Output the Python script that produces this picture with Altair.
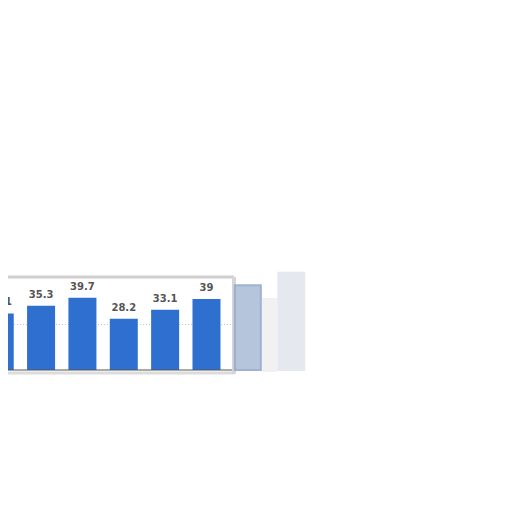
import altair as alt
import pandas as pd

idx = [0, 1, 2, 3, 4, 5]
values = [31.1, 35.3, 39.7, 28.2, 33.1, 39.0]
labels = ["31.1", "35.3", "39.7", "28.2", "33.1", "39"]
ghost_idx = [6, 7.05]
ghost_vals = [46.5, 53.5]
ghost_fill = ["#adbfd9", "#e3e7ee"]
ghost_stroke = ["#94aacd", "#e3e7ee"]
grid_vals = [25]
base_vals = [0]

df = pd.DataFrame({"i": idx, "v": values, "t": labels})
gdf = pd.DataFrame({"i": ghost_idx, "v": ghost_vals, "f": ghost_fill, "s": ghost_stroke})
griddf = pd.DataFrame({"g": grid_vals})
basedf = pd.DataFrame({"g": base_vals})
one = pd.DataFrame({"a": [0]})

xs = alt.Scale(domain=[0.2, 7.6], nice=False, zero=False, padding=0)
ys = alt.Scale(domain=[0, 50], nice=False)

box = alt.Chart(one).mark_rect(fill="white").encode(
    x=alt.value(-20), x2=alt.value(226), y=alt.value(-2), y2=alt.value(93)
)
top_edge = alt.Chart(one).mark_rule(color="#cfcfcf", strokeWidth=3).encode(
    x=alt.value(-20), x2=alt.value(226), y=alt.value(-2)
)
bottom_edge = alt.Chart(one).mark_rule(color="#dcdcdc", strokeWidth=3).encode(
    x=alt.value(-20), x2=alt.value(226), y=alt.value(94)
)
right_edge = alt.Chart(one).mark_rule(color="#d6d6d6", strokeWidth=4).encode(
    x=alt.value(226), y=alt.value(-2), y2=alt.value(95)
)
shadow = alt.Chart(one).mark_rect(fill="#ededed", opacity=0.8).encode(
    x=alt.value(254), x2=alt.value(269), y=alt.value(19), y2=alt.value(93)
)
grid = alt.Chart(griddf).mark_rule(color="#c4c4c4", strokeDash=[1, 2], strokeWidth=1).encode(
    y=alt.Y("g:Q", scale=ys, axis=None), x=alt.value(0), x2=alt.value(224)
)
base = alt.Chart(basedf).mark_rule(color="#555555", strokeWidth=1).encode(
    y=alt.Y("g:Q", scale=ys, axis=None), x=alt.value(0), x2=alt.value(224)
)
ghost = alt.Chart(gdf).mark_bar(size=26, strokeWidth=2, opacity=0.9).encode(
    x=alt.X("i:Q", scale=xs, axis=None),
    y=alt.Y("v:Q", scale=ys, axis=None),
    fill=alt.Fill("f:N", scale=None),
    stroke=alt.Stroke("s:N", scale=None),
)
bars = alt.Chart(df).mark_bar(size=28, color="#2f6fd0", clip=True).encode(
    x=alt.X("i:Q", scale=xs, axis=None),
    y=alt.Y("v:Q", scale=ys, axis=None),
)
text = alt.Chart(df).mark_text(
    dy=-6, baseline="bottom", fontSize=10, fontWeight="bold", color="#555555",
    font="DejaVu Sans", clip=True
).encode(
    x=alt.X("i:Q", scale=xs, axis=None),
    y=alt.Y("v:Q", scale=ys, axis=None),
    text="t:N",
)

chart = alt.layer(box, top_edge, bottom_edge, right_edge, shadow, grid, ghost,
                  bars, base, text).properties(
    width=306, height=91,
    autosize=alt.AutoSizeParams(type="none"),
    padding={"left": 0, "top": 271, "right": 0, "bottom": 20},
).configure_view(stroke=None)

chart.save("out.html", embed_options={"renderer": "svg", "actions": False})
